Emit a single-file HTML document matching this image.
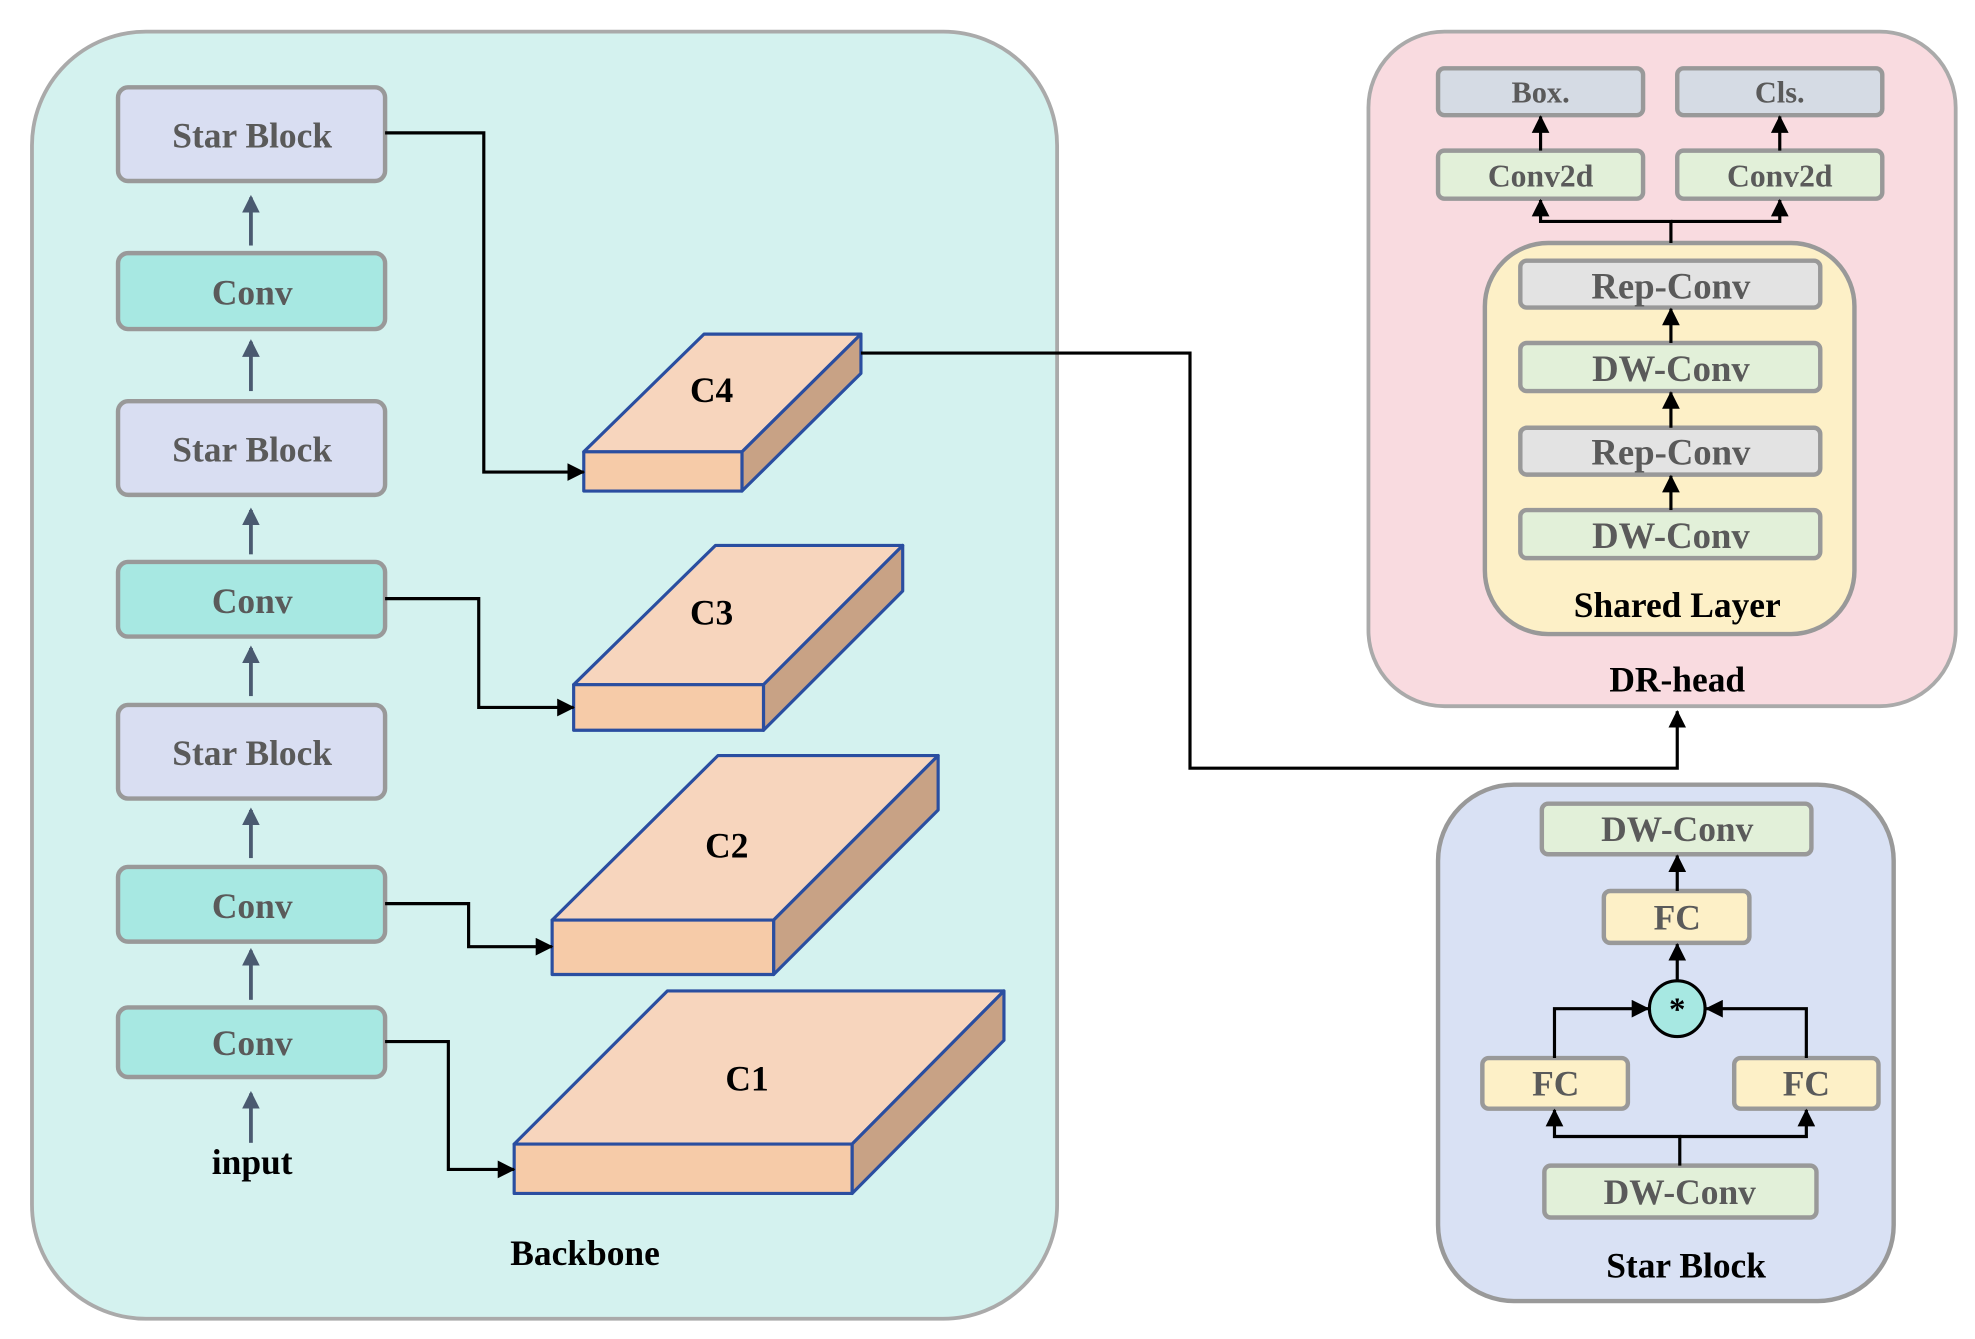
<!DOCTYPE html>
<html><head><meta charset="utf-8"><style>html,body{margin:0;padding:0;background:#fff}svg{display:block}
text{font-family:"Liberation Serif",serif;font-weight:bold;text-anchor:middle;dominant-baseline:central}</style></head>
<body>
<svg width="1975" height="1339" viewBox="0 0 1560 1058" xmlns="http://www.w3.org/2000/svg">
<defs>
<marker id="a" markerWidth="14" markerHeight="14" refX="13" refY="7" orient="auto" markerUnits="userSpaceOnUse"><path d="M0,0 L14,7 L0,14 z" fill="#000"/></marker>
<marker id="g" markerWidth="14" markerHeight="14" refX="12" refY="7" orient="auto" markerUnits="userSpaceOnUse"><path d="M0,0 L14,7 L0,14 z" fill="#4a5a70"/></marker>
</defs>
<rect x="25" y="25" width="810" height="1017" rx="90" fill="#d4f2ef" stroke="#aaa" stroke-width="3"/>
<g stroke="#999" stroke-width="3.5">
<rect x="93" y="69" width="211" height="74" rx="8" fill="#d9def2"/>
<rect x="93" y="200" width="211" height="60" rx="8" fill="#a7e8e2"/>
<rect x="93" y="317" width="211" height="74" rx="8" fill="#d9def2"/>
<rect x="93" y="444" width="211" height="59" rx="8" fill="#a7e8e2"/>
<rect x="93" y="557" width="211" height="74" rx="8" fill="#d9def2"/>
<rect x="93" y="685" width="211" height="59" rx="8" fill="#a7e8e2"/>
<rect x="93" y="796" width="211" height="55" rx="8" fill="#a7e8e2"/>
</g>
<g fill="#5a5a5a" font-size="28">
<text x="199" y="107">Star Block</text><text x="199" y="231">Conv</text>
<text x="199" y="355">Star Block</text><text x="199" y="475">Conv</text>
<text x="199" y="595">Star Block</text><text x="199" y="716">Conv</text>
<text x="199" y="824">Conv</text></g>
<text x="199" y="918" font-size="28">input</text>
<text x="462" y="990" font-size="28">Backbone</text>
<g stroke="#4a5a70" stroke-width="3" marker-end="url(#g)">
<line x1="198" y1="194" x2="198" y2="156"/><line x1="198" y1="309" x2="198" y2="270"/>
<line x1="198" y1="438" x2="198" y2="403"/><line x1="198" y1="550" x2="198" y2="512"/>
<line x1="198" y1="678" x2="198" y2="640"/><line x1="198" y1="790" x2="198" y2="751"/>
<line x1="198" y1="903" x2="198" y2="864"/></g>
<g stroke="#2a4ea0" stroke-width="2.5" stroke-linejoin="round">
<polygon points="461,357 556,264 680,264 586,357" fill="#f7d5bd"/><polygon points="586,357 680,264 680,295 586,388" fill="#c8a285"/><rect x="461" y="357" width="125" height="31" fill="#f6cba8"/>
<polygon points="453,541 565,431 713,431 603,541" fill="#f7d5bd"/><polygon points="603,541 713,431 713,467 603,577" fill="#c8a285"/><rect x="453" y="541" width="150" height="36" fill="#f6cba8"/>
<polygon points="436,727 567,597 741,597 611,727" fill="#f7d5bd"/><polygon points="611,727 741,597 741,640 611,770" fill="#c8a285"/><rect x="436" y="727" width="175" height="43" fill="#f6cba8"/>
<polygon points="406,904 527,783 793,783 673,904" fill="#f7d5bd"/><polygon points="673,904 793,783 793,822 673,943" fill="#c8a285"/><rect x="406" y="904" width="267" height="39" fill="#f6cba8"/>
</g>
<g font-size="28"><text x="562" y="308">C4</text><text x="562" y="484">C3</text><text x="574" y="668">C2</text><text x="590" y="852">C1</text></g>
<g fill="none" stroke="#000" stroke-width="2.5" marker-end="url(#a)">
<polyline points="304,105 382,105 382,373 461,373"/>
<polyline points="304,473 378,473 378,559 453,559"/>
<polyline points="304,714 370,714 370,748 436,748"/>
<polyline points="304,823 354,823 354,924 406,924"/>
<polyline points="680,279 940,279 940,607 1325,607 1325,562"/>
</g>
<rect x="1081" y="25" width="464" height="533" rx="60" fill="#f9dbe0" stroke="#aaa" stroke-width="3"/>
<g stroke="#999" stroke-width="3.5">
<rect x="1136" y="54" width="162" height="37" rx="5" fill="#d5dbe4"/>
<rect x="1325" y="54" width="162" height="37" rx="5" fill="#d5dbe4"/>
<rect x="1136" y="119" width="162" height="38" rx="5" fill="#e2f0d9"/>
<rect x="1325" y="119" width="162" height="38" rx="5" fill="#e2f0d9"/>
</g>
<rect x="1173" y="192" width="292" height="309" rx="50" fill="#fdf0c7" stroke="#999" stroke-width="3.5"/>
<g stroke="#999" stroke-width="3.5">
<rect x="1201" y="206" width="237" height="37" rx="5" fill="#e3e3e3"/>
<rect x="1201" y="271" width="237" height="38" rx="5" fill="#e2f0d9"/>
<rect x="1201" y="338" width="237" height="37" rx="5" fill="#e3e3e3"/>
<rect x="1201" y="403" width="237" height="38" rx="5" fill="#e2f0d9"/>
</g>
<g fill="#5a5a5a">
<text x="1217" y="73" font-size="24">Box.</text><text x="1406" y="73" font-size="24">Cls.</text>
<text x="1217" y="139" font-size="25">Conv2d</text><text x="1406" y="139" font-size="25">Conv2d</text>
<text x="1320" y="226" font-size="29">Rep-Conv</text><text x="1320" y="291" font-size="29">DW-Conv</text>
<text x="1320" y="357" font-size="29">Rep-Conv</text><text x="1320" y="423" font-size="29">DW-Conv</text></g>
<text x="1325" y="478" font-size="28">Shared Layer</text>
<text x="1325" y="537" font-size="28">DR-head</text>
<g fill="none" stroke="#000" stroke-width="2.5" marker-end="url(#a)">
<line x1="1217" y1="119" x2="1217" y2="92"/><line x1="1406" y1="119" x2="1406" y2="92"/>
<line x1="1320" y1="271" x2="1320" y2="244"/><line x1="1320" y1="338" x2="1320" y2="310"/><line x1="1320" y1="403" x2="1320" y2="376"/>
<polyline points="1320,192 1320,175 1217,175 1217,158"/><polyline points="1320,175 1406,175 1406,158"/>
</g>
<rect x="1136" y="620" width="360" height="408" rx="60" fill="#d9e1f4" stroke="#999" stroke-width="3.5"/>
<g stroke="#999" stroke-width="3.5">
<rect x="1218" y="635" width="213" height="40" rx="5" fill="#e2f0d9"/>
<rect x="1267" y="704" width="115" height="41" rx="5" fill="#fdf0c7"/>
<rect x="1171" y="836" width="115" height="40" rx="5" fill="#fdf0c7"/>
<rect x="1370" y="836" width="114" height="40" rx="5" fill="#fdf0c7"/>
<rect x="1220" y="921" width="215" height="41" rx="5" fill="#e2f0d9"/>
</g>
<circle cx="1325" cy="797" r="22" fill="#a7e8e2" stroke="#000" stroke-width="2.5"/>
<text x="1325" y="798" font-size="26">*</text>
<g fill="#5a5a5a" font-size="28">
<text x="1325" y="655">DW-Conv</text><text x="1325" y="725">FC</text>
<text x="1229" y="856">FC</text><text x="1427" y="856">FC</text><text x="1327" y="942">DW-Conv</text></g>
<text x="1332" y="1000" font-size="28">Star Block</text>
<g fill="none" stroke="#000" stroke-width="2.5" marker-end="url(#a)">
<line x1="1325" y1="704" x2="1325" y2="676"/><line x1="1325" y1="775" x2="1325" y2="746"/>
<polyline points="1228,836 1228,797 1302,797"/><polyline points="1427,836 1427,797 1348,797"/>
<polyline points="1327,921 1327,898 1228,898 1228,877"/><polyline points="1327,898 1427,898 1427,877"/>
</g>
</svg>
</body></html>
